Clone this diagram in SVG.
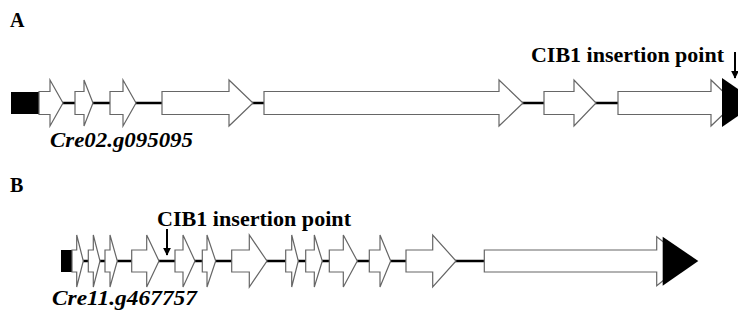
<svg xmlns="http://www.w3.org/2000/svg" width="738" height="322" viewBox="0 0 738 322">
<style>
.bg{fill:#fff}
.exon{fill:#fff;stroke:#666;stroke-width:1.2;stroke-linejoin:miter}
.intron{stroke:#000;stroke-width:2.5;fill:none}
.utr{fill:#000}
.lbl{font-family:"Liberation Serif","Times New Roman",serif;font-weight:bold;fill:#000}
.gene{font-family:"Liberation Serif","Times New Roman",serif;font-weight:bold;font-style:italic;font-size:22px;fill:#000}
.ins{stroke:#000;stroke-width:2}
</style>
<defs>
<marker id="ah" viewBox="0 0 10 10" refX="9" refY="5" markerWidth="4" markerHeight="4" orient="auto">
<path d="M0,0 L10,5 L0,10 Z" fill="#000"/>
</marker>
</defs>
<rect class="bg" x="0" y="0" width="738" height="322"/>
<text class="lbl" x="10" y="27" font-size="20">A</text>
<text class="lbl" x="10" y="192" font-size="20">B</text>

<g id="connectors">
<line class="intron" x1="39" y1="103" x2="711" y2="103"/>
<line class="intron" x1="72" y1="261" x2="660" y2="261"/>
<line class="ins" x1="735" y1="52" x2="735" y2="78" marker-end="url(#ah)"/>
<line class="ins" x1="167" y1="229" x2="167" y2="255" marker-end="url(#ah)"/>
</g>

<g id="geneA">
<rect class="utr" x="11" y="92" width="28" height="22"/>
<path class="exon" d="M39,91.5H50V80L63,103L50,126V114.5H39Z"/>
<path class="exon" d="M75,91.5H84V80L93,103L84,126V114.5H75Z"/>
<path class="exon" d="M110,91.5H123V80L136,103L123,126V114.5H110Z"/>
<path class="exon" d="M162,91.5H229V80L253,103L229,126V114.5H162Z"/>
<path class="exon" d="M264,91.5H499V80L523,103L499,126V114.5H264Z"/>
<path class="exon" d="M544,91.5H574V80L596,103L574,126V114.5H544Z"/>
<path class="exon" d="M618,91.5H711V80L735,103L711,126V114.5H618Z"/>
<path class="utr" d="M722,78L758,102.5L722,127Z"/>
</g>
<g id="labelA">
<text class="lbl" x="531" y="62" font-size="22" textLength="193" lengthAdjust="spacingAndGlyphs">CIB1 insertion point</text>
<text class="gene" x="50" y="147" textLength="143" lengthAdjust="spacingAndGlyphs">Cre02.g095095</text>
</g>

<g id="geneB">
<rect class="utr" x="61" y="250" width="11" height="22"/>
<path class="exon" d="M72,250H76.7V235L83.3,261L76.7,287V272H72Z"/>
<path class="exon" d="M88.3,250H93.3V235L100,261L93.3,287V272H88.3Z"/>
<path class="exon" d="M105,250H110V235L117.3,261L110,287V272H105Z"/>
<path class="exon" d="M131.7,250H146.7V235L159,261L146.7,287V272H131.7Z"/>
<path class="exon" d="M175,250H183V235L195,261L183,287V272H175Z"/>
<path class="exon" d="M202.3,250H207V235L215.7,261L207,287V272H202.3Z"/>
<path class="exon" d="M231.7,250H249.3V235L267,261L249.3,287V272H231.7Z"/>
<path class="exon" d="M285.7,250H291.7V235L298.3,261L291.7,287V272H285.7Z"/>
<path class="exon" d="M305.7,250H314.3V235L322.3,261L314.3,287V272H305.7Z"/>
<path class="exon" d="M329.3,250H343.3V235L357.3,261L343.3,287V272H329.3Z"/>
<path class="exon" d="M369.3,250H380V235L390.7,261L380,287V272H369.3Z"/>
<path class="exon" d="M406,250H432.7V235L456,261L432.7,287V272H406Z"/>
<path class="exon" d="M484.3,250H656.7V236.7L688,261L656.7,285.7V272H484.3Z"/>
<path class="utr" d="M662.7,236.7L698.3,261L662.7,285.7Z"/>
</g>
<g id="labelB">
<text class="lbl" x="157" y="226" font-size="22" textLength="194" lengthAdjust="spacingAndGlyphs">CIB1 insertion point</text>
<text class="gene" x="52" y="305" textLength="145" lengthAdjust="spacingAndGlyphs">Cre11.g467757</text>
</g>
</svg>
